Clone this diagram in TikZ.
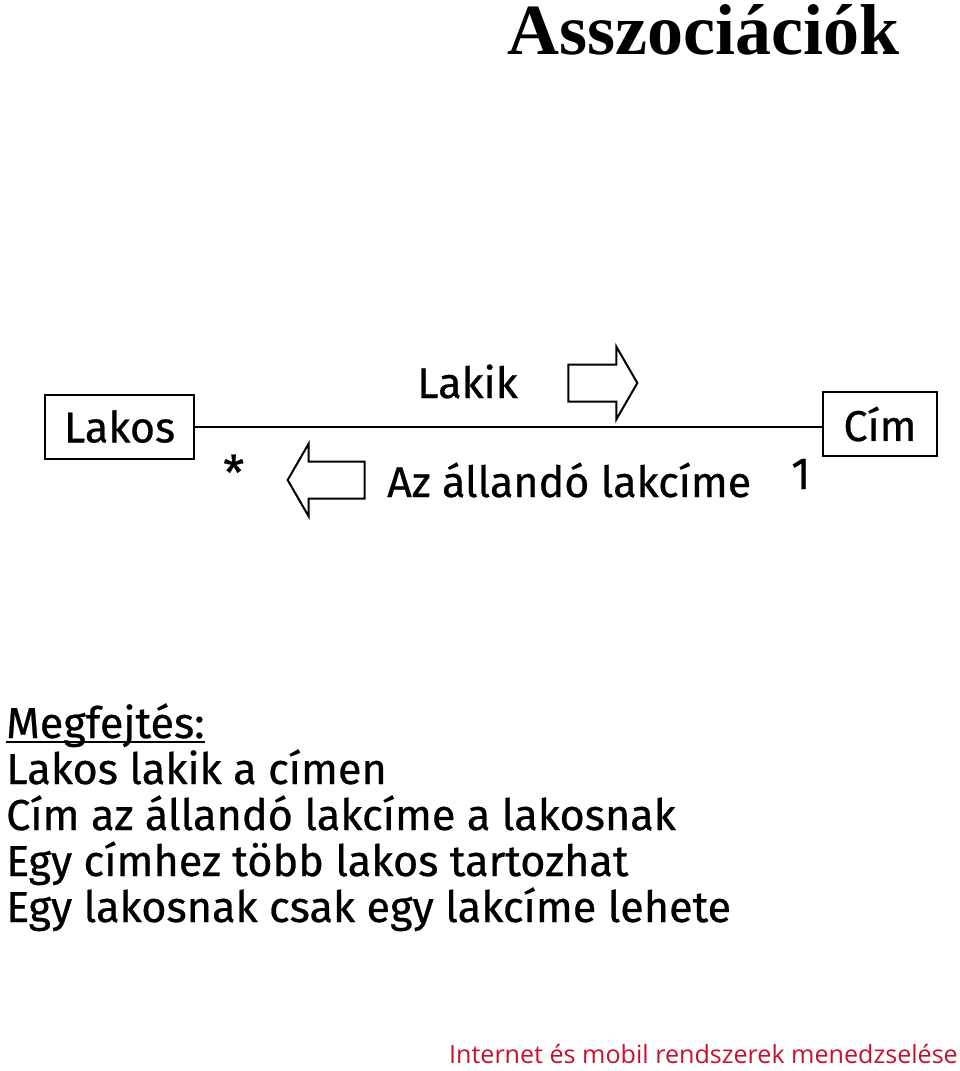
\documentclass[tikz,border=0pt]{standalone}
\usepackage{fontspec}
\setmainfont{Liberation Serif}
\newfontfamily\narrowsans[FakeBold=0.6]{Fira Sans}
\newfontfamily\footsans{Open Sans}
\usepackage{xcolor}
\usetikzlibrary{positioning,shapes.arrows}
\definecolor{footred}{RGB}{200,16,46}

\begin{document}
\begin{tikzpicture}[
    x=1pt, y=-1pt,
    class/.style={draw, line width=2pt, minimum height=64pt, inner sep=0pt, font=\narrowsans\fontsize{43}{50}\selectfont},
    label/.style={inner sep=0pt, anchor=base west, font=\narrowsans\fontsize{43}{50}\selectfont},
    textline/.style={inner sep=0pt, anchor=base west, font=\narrowsans\fontsize{43.2}{46}\selectfont},
    dirarrow/.style={shape=single arrow, draw, line width=2pt, inner xsep=0pt, inner ysep=17.5pt,
        single arrow head extend=18pt, single arrow tip angle=120}
]
\useasboundingbox (0,0) rectangle (960,1071);

% title
\node[anchor=base west, inner sep=0pt, text height=52pt, font=\bfseries\fontsize{72}{80}\selectfont] (title) at (507,54) {Asszociációk};

% classes and association
\node[class, minimum width=149pt] (lakos) at (119.5,426.5) {Lakos};
\node[class, minimum width=114pt] (cim) at (880,424) {Cím};
\draw[line width=2pt] (lakos.east |- 0,427) -- (cim.west |- 0,427);

\node[label] (lakik) at (417,398) {Lakik};
\node[dirarrow, minimum height=69pt] (lakikarrow) at (597.5,383) {};
\node[label] (lakcime) at (387,497) {Az állandó lakcíme};
\node[dirarrow, minimum height=77pt, shape border rotate=180] (lakcimearrow) at (331.5,480) {};

\node[label, font=\narrowsans\fontsize{48}{50}\selectfont] (many) at (223,490) {*};
\node[label, font=\narrowsans\fontsize{45}{50}\selectfont] (one) at (791,489) {1};

% explanation
\node[textline] (megf) at (6,738) {Megfejtés:};
\draw[line width=1.5pt] ([yshift=-4pt]megf.base west) -- ([yshift=-4pt]megf.base east);
\foreach \txt [count=\i] in {Lakos lakik a címen, Cím az állandó lakcíme a lakosnak,
    Egy címhez több lakos tartozhat, Egy lakosnak csak egy lakcíme lehete}
    \node[textline] (line\i) at (6,738+46*\i) {\txt};

% footer
\node[anchor=base east, inner sep=0pt, text=footred, font=\footsans\fontsize{25.1}{30}\selectfont] (footer) at (958,1063) {Internet és mobil rendszerek menedzselése};
\end{tikzpicture}
\end{document}
